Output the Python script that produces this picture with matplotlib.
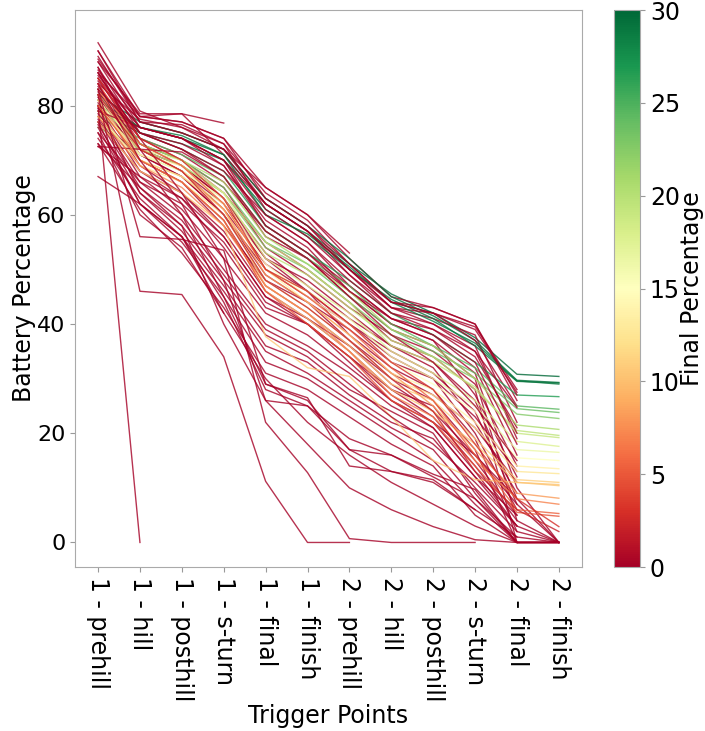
import numpy as np
import matplotlib
matplotlib.use('Agg')
import matplotlib.pyplot as plt
from matplotlib import colors
from itertools import zip_longest

nan = np.nan

trigger_points = ['1 - prehill', '1 - hill', '1 - posthill', '1 - s-turn',
                  '1 - final', '1 - finish', '2 - prehill', '2 - hill',
                  '2 - posthill', '2 - s-turn', '2 - final', '2 - finish']

# runs finishing with a decent charge left
green_runs = [
    [80, 76, 74, 71, 62, 57, 51, 45.5, 42, 37.5, 30.8, 30.4],
    [82, 77, 75, 72, 63, 58, 52, 45, 41.5, 37, 29.7, 29.3],
    [79, 75, 73, 70, 61, 56, 50, 44.5, 41, 36, 29.5, 29.2],
    [81, 76, 74.5, 71, 60, 56.5, 50.5, 44, 40.5, 36.5, 29.6, 29.0],
    [83, 75, 72, 68, 58, 53, 48, 42, 38, 33, 27, 26.7],
    [78, 74, 71, 67, 57, 52, 47, 40, 36, 32, 25, 24.4],
    [82, 73, 70, 65, 55, 51, 45, 39, 35, 31, 24.5, 23.8],
    [76, 72, 69, 64, 54, 50, 44, 38, 34, 30, 23.5, 22.7],
    [80, 73, 70, 66, 56, 51, 46, 39, 36, 30, 21.5, 20.7],
    [77, 71, 68, 63, 53, 49, 43, 37, 34, 28, 20.5, 19.6],
    [79, 72, 69, 64, 55, 50, 44, 36, 33, 28.5, 20, 19.2],
]

yellow_runs = [
    [81, 72, 70, 64, 52, 47, 42, 35, 31, 26, 18.5, 17.6],
    [78, 70, 67, 62, 50, 46, 41, 34, 30, 25, 17, 16.5],
    [80, 71, 68, 63, 51, 45, 40, 33, 29, 24, 15.5, 15.0],
    [82, 71, 69, 62, 50, 44, 38, 31, 28, 22, 14, 13.5],
    [79, 69, 66, 60, 48, 43, 37, 30, 27, 21, 13, 12.6],
    [77, 68, 64, 58, 37.7, 32, 30.4, 23, 15, 11.5, 11, 10.6],
    [81, 70, 67, 61, 47, 42, 36, 29, 26, 19, 11.5, 11.0],
    [80, 70, 66, 59, 46, 41, 35, 28, 24, 18, 11, 10.4],
]

orange_runs = [
    [83, 72, 68, 61, 49, 44, 38, 31, 25, 17, 9, 8.1],
    [78, 69, 65, 58, 47, 42, 35, 27, 23, 15, 8, 7.0],
    [84, 73, 69, 62, 50, 45, 39, 32, 26, 16, 6, 5.3],
    [80, 70, 66, 59, 46, 40, 34, 26, 22, 14, 5.5, 4.8],
    [85, 74, 70, 63, 50, 46, 40, 33, 28, 18, 8, 2.9],
    [82, 72, 68, 60, 48, 43, 37, 30, 24, 13, 6, 2.0],
]

# runs that ran flat or stopped logging before the last trigger
red_runs = [
    [91.5, 79, 76, 73, 64, 59, 51, 44, 42, 39.5, 28, nan],
    [90, 78, 77, 74, 65, 60, 52, 45, 43, 40, 26, nan],
    [89, 77, 75, 72, 63, 58, 50, 43, 41, 38, 22, nan],
    [88.5, 78, 78.5, 71, 62, 57, 49, 42, 40, 36, 19, nan],
    [88, 76, 74, 70, 60, 55, 47, 41, 39, 34, 21, nan],
    [87, 75, 73, 69, 59, 54, 46, 40, 37, 31, 10, 0],
    [86.5, 77, 76.5, 73, 61, 56, 49, 43, 42, 37, 25, nan],
    [86, 74, 71, 66, 57, 52, 45, 39, 36, 30, 4, 0],
    [85.5, 76, 74, 69, 58, 53, 47, 41, 38, 32, 16, nan],
    [85, 73, 70, 64, 55, 50, 44, 37, 34, 28, 0, 0],
    [84.5, 75, 72, 67, 56, 52, 46, 40, 37, 27, 12, nan],
    [84, 72, 68, 62, 52, 48, 42, 36, 33, 26, 8, 0],
    [83.5, 74, 70, 65, 54, 49, 43, 38, 35, 29, 14, nan],
    [83, 71, 67, 60, 50, 45, 40, 35, 31, 24, 7, 0],
    [82.5, 73, 69, 63, 53, 47, 41, 36, 32, 22, 9, nan],
    [82, 70, 66, 58, 48, 44, 39, 33, 30, 20, 6, nan],
    [81.5, 72, 68, 61, 51, 46, 38, 32, 28, 19, 2, 0],
    [81, 69, 64, 56, 45, 41, 36, 30, 26, 17, 0, 0],
    [80.5, 71, 67, 60, 49, 44, 37, 31, 27, 21, 11, nan],
    [80, 68, 63, 54, 43, 40, 34, 28, 25, 15, 5, nan],
    [79.5, 72, 69, 63, 52, 46, 40, 34, 30, 23, 13, nan],
    [79, 67, 61, 52, 42, 38, 32, 26, 22, 13, 3, 0],
    [78.5, 70, 66, 59, 47, 42, 36, 29, 24, 16, 7, nan],
    [78, 66, 60, 50, 40, 36, 31, 25, 21, 12, 3, nan],
    [77.5, 65, 58, 48, 38, 34, 28, 24, 20, 9, 0, 0],
    [77, 68, 64, 57, 46, 41, 35, 28, 23, 14, 4, nan],
    [76.5, 64, 57, 47, 36, 33, 27, 22, 19, 10, 2, nan],
    [76, 62, 55, 45, 33, 30, 25, 20, 15, 7, 0, nan],
    [75, 66, 62, 55, 44, 40, 34, 27, 22, 16, 8, nan],
    [74, 63, 56, 46, 35, 31, 26, 21, 17, 8, 1, nan],
    [73, 61, 53, 43, 31, 28, 23, 18, 14, 5, 0, nan],
    [72.5, 67, 63, 56, 45, 40, 33, 26, 21, 12, 5, nan],
    [72.5, 72, 71.5, 67, 57, 52, 45, 38, 33, 25, 15, nan],
    [73, 65, 59, 49, 39, 35, 29, 23, 18, 11, 3, nan],
    [86, 78, 77, 74, 63, 58, 51, 44, 43, 40, 27, nan],
    [84, 77.5, 76, 72, 62, 57, 50, 43, 40, 35, 20, nan],
    [79, 76, 74, 70, 58, 53, 46, 41, 38, 33, 18, nan],
    [77, 62, 56, 44, 28, 25, 19, 16, 12, 8, 0, 0],
    [75, 60, 54, 42, 30, 22, 16, 11, 7, 3, 0, 0],
    [80, 64, 58, 40, 26, 18, 10, 6, 2.9, 0.5, 0, 0],
]

# runs that dropped out part way through
dropout_runs = [
    [80, 0, nan, nan, nan, nan, nan, nan, nan, nan, nan, nan],
    [82, 46, 45.4, 34, 11.2, 0, 0, nan, nan, nan, nan, nan],
    [86, 74, 64, 52, 22, 12.8, 0.7, 0, 0, 0, nan, nan],
    [88, 78.5, 78.5, 76.8, nan, nan, nan, nan, nan, nan, nan, nan],
    [83, 56, 55.5, 53.5, 29, 26, 17, 13, 11.5, 6, nan, nan],
    [90, 77, 75, 72, 65, 60, 53, nan, nan, nan, nan, nan],
    [85, 76, 74, 70, 62, 57, 50, 44, 42, 39, 27.5, nan],
    [83, 75, 72, 68, 60, 55, 48, 42, 39, 35, 24.7, nan],
    [67, 62, 56, 42, nan, nan, nan, nan, nan, nan, nan, nan],
    [87, 72, 62, 48, 26, 25, 17, 16, 12.5, 9.7, 0, 0],
    [84, 70, 60, 45, 29, 26.5, 14, 13, 11, 6, 1, 0],
]

# interleave groups so no colour sits fully on top
coloured = green_runs + yellow_runs + orange_runs
reds = red_runs + dropout_runs
runs = []
for a, b, c in zip_longest(reds[::2], coloured, reds[1::2]):
    for r in (a, b, c):
        if r is not None:
            runs.append(r)

cmap = plt.get_cmap('RdYlGn')
norm = colors.Normalize(vmin=0, vmax=30)

fig = plt.figure(figsize=(7.05, 7.31), dpi=100)
ax = fig.add_axes([0.1064, 0.2243, 0.719, 0.762])
cax = fig.add_axes([0.871, 0.2243, 0.0369, 0.762])

x = np.arange(len(trigger_points))
for r in runs:
    vals = np.array(r, dtype=float)
    final = vals[-1] if not np.isnan(vals[-1]) else 0.0
    ax.plot(x, vals, color=cmap(norm(final)), linewidth=1.0, alpha=0.8)

ax.set_xticks(x)
ax.set_xticklabels(trigger_points, rotation=270, fontsize=17)
ax.tick_params(axis='y', labelsize=16)
ax.tick_params(colors='#999999', labelcolor='black')
ax.set_yticks([0, 20, 40, 60, 80])
ax.set_ylim(-4.5, 97.5)
ax.set_xlabel('Trigger Points', fontsize=17, labelpad=2)
ax.set_ylabel('Battery Percentage', fontsize=17, labelpad=1)
for s in ax.spines.values():
    s.set_color('#aaaaaa')

sm = plt.cm.ScalarMappable(cmap=cmap, norm=norm)
sm.set_array([])
cbar = fig.colorbar(sm, cax=cax)
cbar.set_ticks([0, 5, 10, 15, 20, 25, 30])
cbar.ax.tick_params(labelsize=17, colors='#999999', labelcolor='black')
cbar.set_label('Final Percentage', fontsize=17, labelpad=0)
cbar.outline.set_edgecolor('#aaaaaa')

plt.savefig('out.png', dpi=100)
